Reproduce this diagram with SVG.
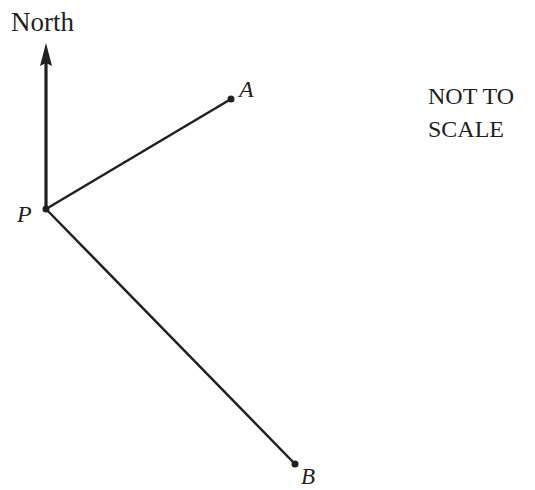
<svg xmlns="http://www.w3.org/2000/svg" width="535" height="490" viewBox="0 0 535 490">
<style>
text{font-family:"Liberation Serif","Times New Roman",serif;fill:#231f20;font-size:24px}
.it{font-style:italic}
.ln{stroke:#231f20;stroke-width:2.5;fill:none}
.nl{stroke:#231f20;stroke-width:3.2;fill:none}
.dot{fill:#231f20}
</style>
<defs>
<marker id="ah" viewBox="0 0 23 12" refX="11" refY="6" markerWidth="23" markerHeight="12" orient="auto" markerUnits="userSpaceOnUse"><path d="M0,0 L23,6 L0,12 L3,6 Z" fill="#231f20"/></marker>
</defs>
<rect width="535" height="490" fill="#fff"/>
<g id="connectors">
<line class="nl" x1="46" y1="209" x2="46" y2="55" marker-end="url(#ah)"/>
<line class="ln" x1="46" y1="209" x2="231" y2="99"/>
<line class="ln" x1="46" y1="209" x2="295" y2="464"/>
</g>
<g id="north"><text x="11" y="31" style="font-size:27px">North</text></g>
<g id="P"><circle class="dot" cx="46" cy="209" r="3.5"/><text class="it" x="17" y="222">P</text></g>
<g id="A"><circle class="dot" cx="231" cy="99" r="3.5"/><text class="it" x="239" y="97">A</text></g>
<g id="B"><circle class="dot" cx="295" cy="464" r="3.5"/><text class="it" x="301" y="484" style="font-size:23px">B</text></g>
<g id="note"><text x="428" y="104">NOT TO</text><text x="428" y="137">SCALE</text></g>
</svg>
